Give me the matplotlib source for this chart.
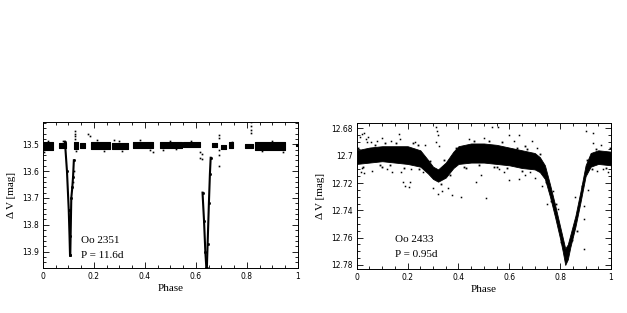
import matplotlib
matplotlib.use("Agg")
import matplotlib.pyplot as plt
from matplotlib.ticker import MultipleLocator

# -----------------------------------------------------------------------
#  Oo 2351 (P = 11.6 d): baseline segments + eclipse branches
# -----------------------------------------------------------------------
SEG_START = [0.0, 0.063, 0.120, 0.145, 0.190, 0.271, 0.354, 0.459, 0.550,
             0.662, 0.700, 0.731, 0.793, 0.832, 0.993]
SEG_END = [0.040, 0.089, 0.138, 0.165, 0.262, 0.334, 0.432, 0.544, 0.616,
           0.681, 0.718, 0.747, 0.826, 0.950, 1.0]
SEG_TOP = [13.490, 13.494, 13.492, 13.495, 13.490, 13.495, 13.490, 13.492,
           13.492, 13.494, 13.502, 13.492, 13.497, 13.492, 13.497]
SEG_BOT = [13.520, 13.513, 13.518, 13.513, 13.518, 13.518, 13.513, 13.513,
           13.510, 13.510, 13.518, 13.513, 13.513, 13.520, 13.508]

ECL1_IN_PH = [0.086, 0.094, 0.101, 0.104, 0.106]
ECL1_IN_MAG = [13.49, 13.60, 13.745, 13.84, 13.913]
ECL1_OUT_PH = [0.107, 0.111, 0.115, 0.118, 0.121]
ECL1_OUT_MAG = [13.913, 13.70, 13.66, 13.62, 13.56]

ECL2_IN_PH = [0.626, 0.632, 0.637, 0.641]
ECL2_IN_MAG = [13.68, 13.787, 13.90, 13.96]
ECL2_OUT_PH = [0.643, 0.646, 0.651, 0.655, 0.658]
ECL2_OUT_MAG = [13.96, 13.87, 13.72, 13.61, 13.55]

LEFT_EXTRA_PH = [0.125, 0.125, 0.125, 0.125, 0.122, 0.119, 0.175, 0.43,
                 0.615, 0.618, 0.625, 0.625, 0.69, 0.69, 0.69, 0.69, 0.69,
                 0.74, 0.74, 0.815, 0.815, 0.815, 0.815, 0.183, 0.005,
                 0.02, 0.08, 0.21, 0.24, 0.30, 0.31, 0.38, 0.42, 0.50,
                 0.52, 0.58, 0.86, 0.90, 0.94, 0.13, 0.28, 0.47]
LEFT_EXTRA_MAG = [13.45, 13.46, 13.47, 13.48, 13.60, 13.64, 13.46, 13.53,
                  13.53, 13.55, 13.535, 13.555, 13.465, 13.475, 13.52, 13.54,
                  13.58, 13.49, 13.50, 13.415, 13.43, 13.445, 13.458, 13.47,
                  13.527, 13.486, 13.488, 13.484, 13.524, 13.486, 13.524,
                  13.485, 13.52, 13.487, 13.518, 13.487, 13.526, 13.486,
                  13.527, 13.524, 13.485, 13.52]

# -----------------------------------------------------------------------
#  Oo 2433 (P = 0.95 d): band envelope + scattered points
# -----------------------------------------------------------------------
BAND_PH = [0.0, 0.05, 0.1, 0.15, 0.2, 0.25, 0.28, 0.3, 0.32, 0.35, 0.38,
           0.4, 0.45, 0.5, 0.55, 0.6, 0.65, 0.7, 0.72, 0.74, 0.76, 0.78,
           0.8, 0.81, 0.82, 0.83, 0.84, 0.86, 0.88, 0.9, 0.92, 0.95, 1.0]
BAND_UP = [12.696, 12.694, 12.693, 12.693, 12.693, 12.696, 12.703, 12.708,
           12.710, 12.705, 12.697, 12.693, 12.691, 12.691, 12.692, 12.694,
           12.696, 12.698, 12.701, 12.707, 12.721, 12.736, 12.752, 12.760,
           12.768, 12.765, 12.758, 12.744, 12.726, 12.707, 12.698, 12.696,
           12.697]
BAND_LO = [12.706, 12.705, 12.704, 12.705, 12.706, 12.708, 12.713, 12.717,
           12.719, 12.716, 12.709, 12.706, 12.705, 12.705, 12.706, 12.707,
           12.709, 12.710, 12.712, 12.717, 12.730, 12.745, 12.761, 12.770,
           12.780, 12.776, 12.767, 12.752, 12.734, 12.715, 12.708, 12.706,
           12.707]

# isolated points well away from the band
RIGHT_OUT_PH = [0.012, 0.02, 0.03, 0.035, 0.04, 0.045, 0.015, 0.03, 0.06,
                0.08, 0.1, 0.12, 0.14, 0.165, 0.17, 0.175, 0.18, 0.19,
                0.205, 0.21, 0.23, 0.26, 0.31, 0.315, 0.318, 0.312, 0.325,
                0.3, 0.32, 0.335, 0.36, 0.375, 0.41, 0.47, 0.49, 0.51,
                0.53, 0.555, 0.5, 0.58, 0.6, 0.6, 0.64, 0.64, 0.66, 0.69,
                0.7, 0.73, 0.77, 0.79, 0.895, 0.895, 0.895, 0.9, 0.93,
                0.928, 0.91, 0.945, 0.97, 0.99, 0.86, 0.75, 0.02, 0.055,
                0.135, 0.215, 0.27, 0.44, 0.56, 0.62, 0.68, 0.71, 0.96]
RIGHT_OUT_MAG = [12.686, 12.684, 12.683, 12.688, 12.690, 12.686, 12.712,
                 12.713, 12.711, 12.689, 12.687, 12.710, 12.712, 12.684,
                 12.688, 12.712, 12.719, 12.722, 12.723, 12.719, 12.690,
                 12.712, 12.679, 12.682, 12.685, 12.690, 12.693, 12.724,
                 12.728, 12.726, 12.724, 12.729, 12.730, 12.719, 12.714,
                 12.731, 12.679, 12.679, 12.687, 12.712, 12.718, 12.685,
                 12.685, 12.717, 12.714, 12.689, 12.716, 12.722, 12.726,
                 12.739, 12.737, 12.746, 12.768, 12.682, 12.683, 12.691,
                 12.725, 12.711, 12.710, 12.712, 12.730, 12.735, 12.709,
                 12.690, 12.689, 12.710, 12.692, 12.688, 12.710, 12.689,
                 12.712, 12.694, 12.692]

# points along the ragged band edges
RIGHT_EDGE_PH = [0.005, 0.025, 0.07, 0.09, 0.11, 0.13, 0.155, 0.185, 0.22,
                 0.245, 0.29, 0.33, 0.345, 0.365, 0.39, 0.42, 0.46, 0.48,
                 0.52, 0.54, 0.57, 0.59, 0.63, 0.65, 0.67, 0.72, 0.745,
                 0.765, 0.785, 0.805, 0.845, 0.865, 0.885, 0.905, 0.925,
                 0.94, 0.98, 0.995, 0.1, 0.24, 0.43, 0.55, 0.62, 0.66]
RIGHT_EDGE_MAG = [12.694, 12.708, 12.692, 12.707, 12.691, 12.707, 12.691,
                  12.709, 12.691, 12.710, 12.704, 12.721, 12.703, 12.714,
                  12.694, 12.708, 12.689, 12.707, 12.689, 12.708, 12.690,
                  12.709, 12.694, 12.711, 12.695, 12.699, 12.719, 12.733,
                  12.735, 12.763, 12.762, 12.755, 12.722, 12.703, 12.710,
                  12.695, 12.709, 12.694, 12.708, 12.692, 12.709, 12.708,
                  12.696, 12.693]


def style_axes(ax, ymajor, yminor):
    ax.xaxis.set_major_locator(MultipleLocator(0.2))
    ax.xaxis.set_minor_locator(MultipleLocator(0.05))
    ax.yaxis.set_major_locator(MultipleLocator(ymajor))
    ax.yaxis.set_minor_locator(MultipleLocator(yminor))
    ax.tick_params(which="both", direction="in", top=True, right=True,
                   labelsize=5.5, width=0.6, pad=3)
    ax.tick_params(which="major", length=4)
    ax.tick_params(which="minor", length=2)
    for sp in ax.spines.values():
        sp.set_linewidth(0.7)
    ax.xaxis.set_major_formatter(
        plt.FuncFormatter(lambda v, p: f"{v:g}"))
    ax.yaxis.set_major_formatter(
        plt.FuncFormatter(lambda v, p: f"{round(v, 3):g}"))
    ax.set_xlim(0, 1)
    ax.set_xlabel("Phase", family="Liberation Serif", fontsize=8, labelpad=2)
    ax.set_ylabel("Δ V [mag]", family="Liberation Serif", fontsize=8,
                  labelpad=4)


fig = plt.figure(figsize=(6.27, 3.13), dpi=100)
ax1 = fig.add_axes([0.0686, 0.1438, 0.4064, 0.4662])
ax2 = fig.add_axes([0.569, 0.1406, 0.4055, 0.4664])

# --- left panel
for s, e, t, b in zip(SEG_START, SEG_END, SEG_TOP, SEG_BOT):
    ax1.fill_between([s, e], [t, t], [b, b], color="black", lw=0.8,
                     edgecolor="black")
for ph, mg in [(ECL1_IN_PH, ECL1_IN_MAG), (ECL1_OUT_PH, ECL1_OUT_MAG),
               (ECL2_IN_PH, ECL2_IN_MAG), (ECL2_OUT_PH, ECL2_OUT_MAG)]:
    ax1.plot(ph, mg, color="black", lw=1.5, marker="s", ms=1.0)
ax1.plot(LEFT_EXTRA_PH, LEFT_EXTRA_MAG, "s", color="black", ms=1.2, mew=0)
ax1.set_ylim(13.961, 13.417)
style_axes(ax1, 0.1, 0.02)
ax1.text(0.15, 13.857, "Oo 2351", family="Liberation Serif", fontsize=8,
         va="center", ha="left")
ax1.text(0.15, 13.913, "P = 11.6d", family="Liberation Serif", fontsize=8,
         va="center", ha="left")

# --- right panel
ax2.fill_between(BAND_PH, BAND_UP, BAND_LO, color="black", lw=0.6,
                 edgecolor="black")
ax2.plot(RIGHT_OUT_PH, RIGHT_OUT_MAG, "s", color="black", ms=1.1, mew=0)
ax2.plot(RIGHT_EDGE_PH, RIGHT_EDGE_MAG, "s", color="black", ms=1.3, mew=0)
ax2.set_ylim(12.783, 12.676)
style_axes(ax2, 0.02, 0.005)
ax2.text(0.15, 12.7617, "Oo 2433", family="Liberation Serif", fontsize=8,
         va="center", ha="left")
ax2.text(0.15, 12.7726, "P = 0.95d", family="Liberation Serif", fontsize=8,
         va="center", ha="left")

fig.savefig("out.png", dpi=100)
